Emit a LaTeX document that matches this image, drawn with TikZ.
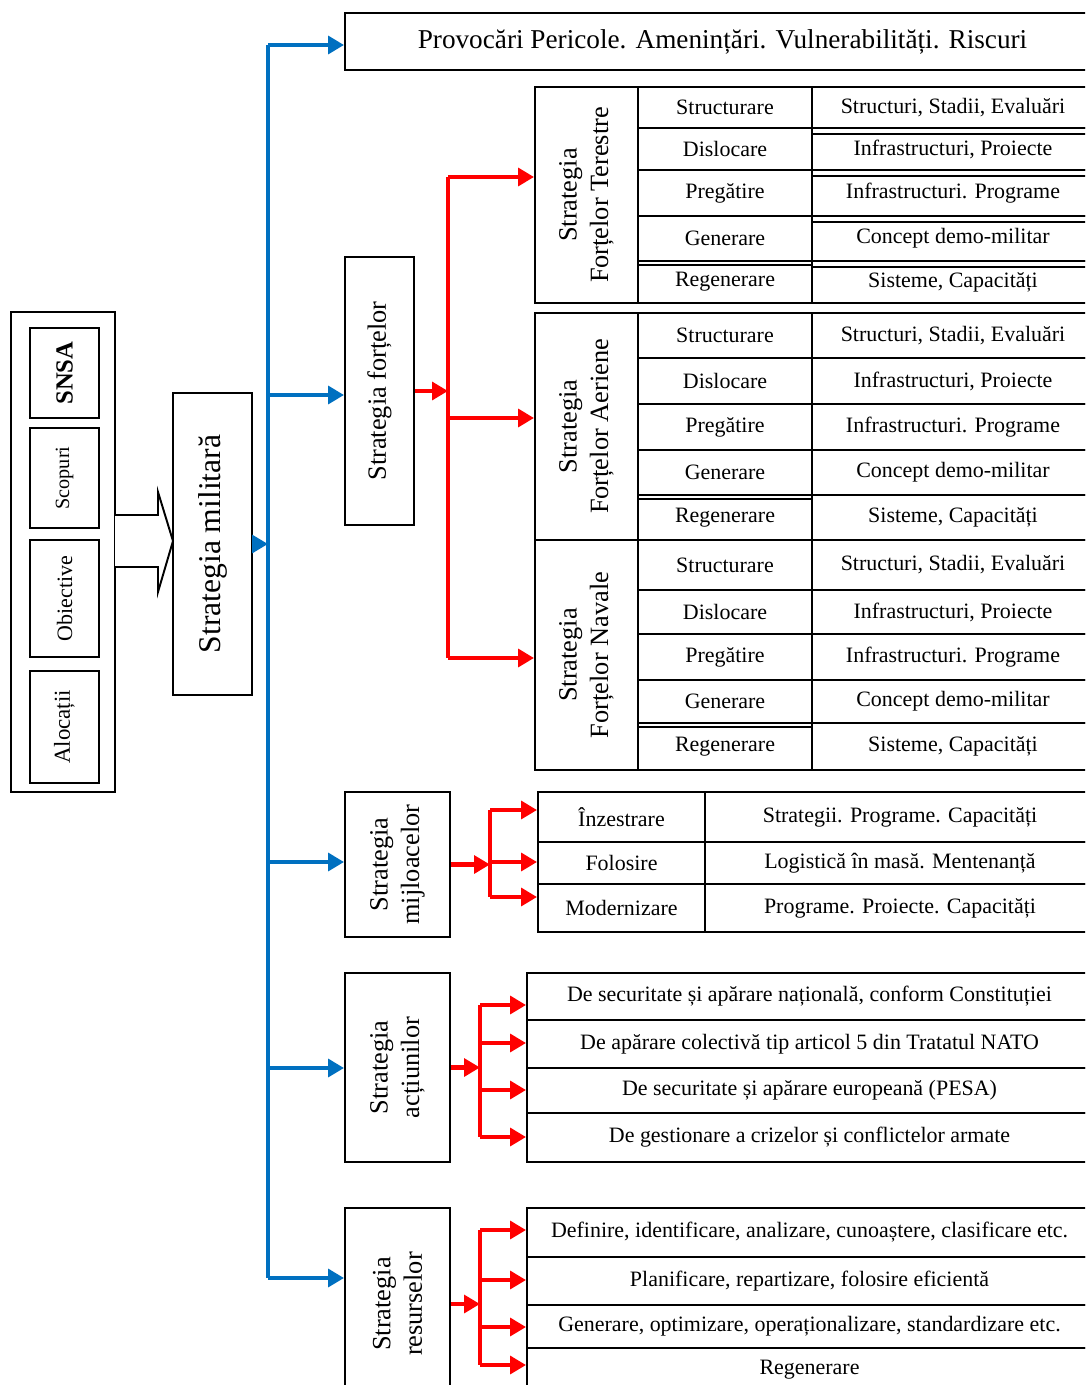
\documentclass[tikz,border=0pt]{standalone}
\usepackage{fontspec}
\setmainfont{Liberation Serif}
\usepackage{tikz}
\usetikzlibrary{arrows.meta,positioning,fit}
\definecolor{linkblue}{RGB}{0,112,192}

\begin{document}
\begin{tikzpicture}[x=0.02cm, y=-0.02cm,
        frame/.style={draw, line width=1.1pt, inner sep=0pt},
        cell/.style={frame, label={[font=\fontsize{12.5}{15}\selectfont]center:#1}},
        rbox/.style={frame, label={[rotate=90, align=center, font=\fontsize{15}{18}\selectfont]center:#1}},
        blueline/.style={linkblue, line width=2.4pt},
        bluearr/.style={blueline, -{Triangle[length=9pt,width=10pt]}},
        redline/.style={red, line width=2.4pt},
        redarr/.style={redline, -{Triangle[length=9pt,width=10pt]}}
    ]
    \useasboundingbox (0,0) rectangle (1085,1385);
    \clip (0,0) rectangle (1085,1385);
    % Coloana stanga
    \node[frame, fit={(11,312) (115,792)}] (grp) {};
    \node[frame, fit={(30,328) (99,418)}, label={[rotate=90, font=\bfseries\fontsize{14}{16}\selectfont]center:SNSA}] (snsa) {};
    \node[frame, fit={(30,428) (99,528)}, label={[rotate=90, font=\fontsize{11.5}{13}\selectfont]center:Scopuri}] (scop) {};
    \node[frame, fit={(30,540) (99,657)}, label={[rotate=90, font=\fontsize{12.5}{14}\selectfont]center:Obiective}] (obi) {};
    \node[frame, fit={(30,671) (99,783)}, label={[rotate=90, font=\fontsize{13}{15}\selectfont]center:Alocații}] (aloc) {};
    \draw[line width=1.1pt, fill=white] (115,515) -- (158,515) -- (158,492) -- (173,541) -- (158,592) -- (158,567) -- (115,567);
    \node[frame, fit={(173,393) (252,695)}, label={[rotate=90, font=\fontsize{18}{21}\selectfont]center:Strategia militară}] (mil) {};
    % Ramuri albastre
    \node[frame, fit={(345,13) (1100,70)}, label={[font=\fontsize{15.5}{18}\selectfont]center:Provocări Pericole. Amenințări. Vulnerabilități. Riscuri}] (risc) {};
    \node[rbox={Strategia forțelor}, fit={(345,257) (414,525)}] (forte) {};
    \node[rbox={Strategia\\mijloacelor}, fit={(345,792) (450,937)}] (mij) {};
    \node[rbox={Strategia\\acțiunilor}, fit={(345,973) (450,1162)}] (act) {};
    \node[rbox={Strategia\\resurselor}, fit={(345,1208) (450,1400)}] (res) {};
    \coordinate (b1) at (268,45);
    \coordinate (b2) at (268,395);
    \coordinate (b3) at (268,862);
    \coordinate (b4) at (268,1068);
    \coordinate (b5) at (268,1278);
    \draw[blueline] (b1) -- (b5);
    \draw[bluearr] (mil.east) -- (mil.east -| b1);
    \draw[bluearr] (b1) -- (b1 -| risc.west);
    \draw[bluearr] (b2) -- (b2 -| forte.west);
    \draw[bluearr] (b3) -- (b3 -| mij.west);
    \draw[bluearr] (b4) -- (b4 -| act.west);
    \draw[bluearr] (b5) -- (b5 -| res.west);
    % Tabele forte
    \foreach \t/\lab/\ya/\yb/\yc/\yd/\ye/\yf in {
        ter/Forțelor Terestre/87/128/170/216/261/303,
        aer/Forțelor Aeriene/313/358/404/450/495/540,
        nav/Forțelor Navale/540/590/634/680/723/770}{
        \node[rbox={Strategia\\\lab}, fit={(535,\ya) (638,\yf)}] (\t) {};
        \node[cell={Structurare}, fit={(638,\ya) (812,\yb)}] (\t-1a) {};
        \node[cell={Structuri, Stadii, Evaluări}, fit={(812,\ya) (1094,\yb)}] (\t-1b) {};
        \node[cell={Dislocare}, fit={(638,\yb) (812,\yc)}] (\t-2a) {};
        \node[cell={Infrastructuri, Proiecte}, fit={(812,\yb) (1094,\yc)}] (\t-2b) {};
        \node[cell={Pregătire}, fit={(638,\yc) (812,\yd)}] (\t-3a) {};
        \node[cell={Infrastructuri. Programe}, fit={(812,\yc) (1094,\yd)}] (\t-3b) {};
        \node[cell={Generare}, fit={(638,\yd) (812,\ye)}] (\t-4a) {};
        \node[cell={Concept demo-militar}, fit={(812,\yd) (1094,\ye)}] (\t-4b) {};
        \node[cell={Regenerare}, fit={(638,\ye) (812,\yf)}] (\t-5a) {};
        \node[cell={Sisteme, Capacități}, fit={(812,\ye) (1094,\yf)}] (\t-5b) {};
        \draw[line width=1.1pt] ([yshift=-3pt]\t-5a.north west) -- ([yshift=-3pt]\t-5a.north east);
    }
    \foreach \r in {1,2,3,4}
        \draw[line width=1.1pt] ([yshift=-3pt]ter-\r b.south west) -- ([yshift=-3pt]ter-\r b.south east);
    % Ramuri rosii forte
    \coordinate (rt) at (448,177);
    \coordinate (ra) at (448,418);
    \coordinate (rn) at (448,658);
    \draw[redline] (rt) -- (rn);
    \draw[redarr] (forte.east) -- (forte.east -| rt);
    \draw[redarr] (rt) -- (rt -| ter.west);
    \draw[redarr] (ra) -- (ra -| aer.west);
    \draw[redarr] (rn) -- (rn -| nav.west);
    % Mijloace
    \node[cell={Înzestrare}, fit={(538,792) (705,842)}] (mij-1a) {};
    \node[cell={Strategii. Programe. Capacități}, fit={(705,792) (1095,842)}] (mij-1b) {};
    \node[cell={Folosire}, fit={(538,842) (705,884)}] (mij-2a) {};
    \node[cell={Logistică în masă. Mentenanță}, fit={(705,842) (1095,884)}] (mij-2b) {};
    \node[cell={Modernizare}, fit={(538,884) (705,932)}] (mij-3a) {};
    \node[cell={Programe. Proiecte. Capacități}, fit={(705,884) (1095,932)}] (mij-3b) {};
    \coordinate (m1) at (490,810);
    \coordinate (m2) at (490,862);
    \coordinate (m3) at (490,897);
    \draw[redline] (m1) -- (m3);
    \draw[redarr] (mij.east) -- (mij.east -| m2);
    \draw[redarr] (m1) -- (m1 -| mij-1a.west);
    \draw[redarr] (m2) -- (m2 -| mij-2a.west);
    \draw[redarr] (m3) -- (m3 -| mij-3a.west);
    % Actiuni
    \node[cell={De securitate și apărare națională, conform Constituției}, fit={(527,973) (1092,1020)}] (act-1) {};
    \node[cell={De apărare colectivă tip articol 5 din Tratatul NATO}, fit={(527,1020) (1092,1068)}] (act-2) {};
    \node[cell={De securitate și apărare europeană (PESA)}, fit={(527,1068) (1092,1113)}] (act-3) {};
    \node[cell={De gestionare a crizelor și conflictelor armate}, fit={(527,1113) (1092,1162)}] (act-4) {};
    \coordinate (a1) at (480,1005);
    \coordinate (a2) at (480,1043);
    \coordinate (a3) at (480,1090);
    \coordinate (a4) at (480,1137);
    \draw[redline] (a1) -- (a4);
    \draw[redarr] (act.east) -- (act.east -| a1);
    \draw[redarr] (a1) -- (a1 -| act-1.west);
    \draw[redarr] (a2) -- (a2 -| act-2.west);
    \draw[redarr] (a3) -- (a3 -| act-3.west);
    \draw[redarr] (a4) -- (a4 -| act-4.west);
    % Resurse
    \node[cell={Definire, identificare, analizare, cunoaștere, clasificare etc.}, fit={(527,1208) (1092,1257)}] (res-1) {};
    \node[cell={Planificare, repartizare, folosire eficientă}, fit={(527,1257) (1092,1305)}] (res-2) {};
    \node[cell={Generare, optimizare, operaționalizare, standardizare etc.}, fit={(527,1305) (1092,1348)}] (res-3) {};
    \node[cell={Regenerare}, fit={(527,1348) (1092,1392)}] (res-4) {};
    \coordinate (s1) at (480,1230);
    \coordinate (s2) at (480,1280);
    \coordinate (s3) at (480,1327);
    \coordinate (s4) at (480,1365);
    \draw[redline] (s1) -- (s4);
    \draw[redarr] (res.east) -- (res.east -| s1);
    \draw[redarr] (s1) -- (s1 -| res-1.west);
    \draw[redarr] (s2) -- (s2 -| res-2.west);
    \draw[redarr] (s3) -- (s3 -| res-3.west);
    \draw[redarr] (s4) -- (s4 -| res-4.west);
\end{tikzpicture}
\end{document}
